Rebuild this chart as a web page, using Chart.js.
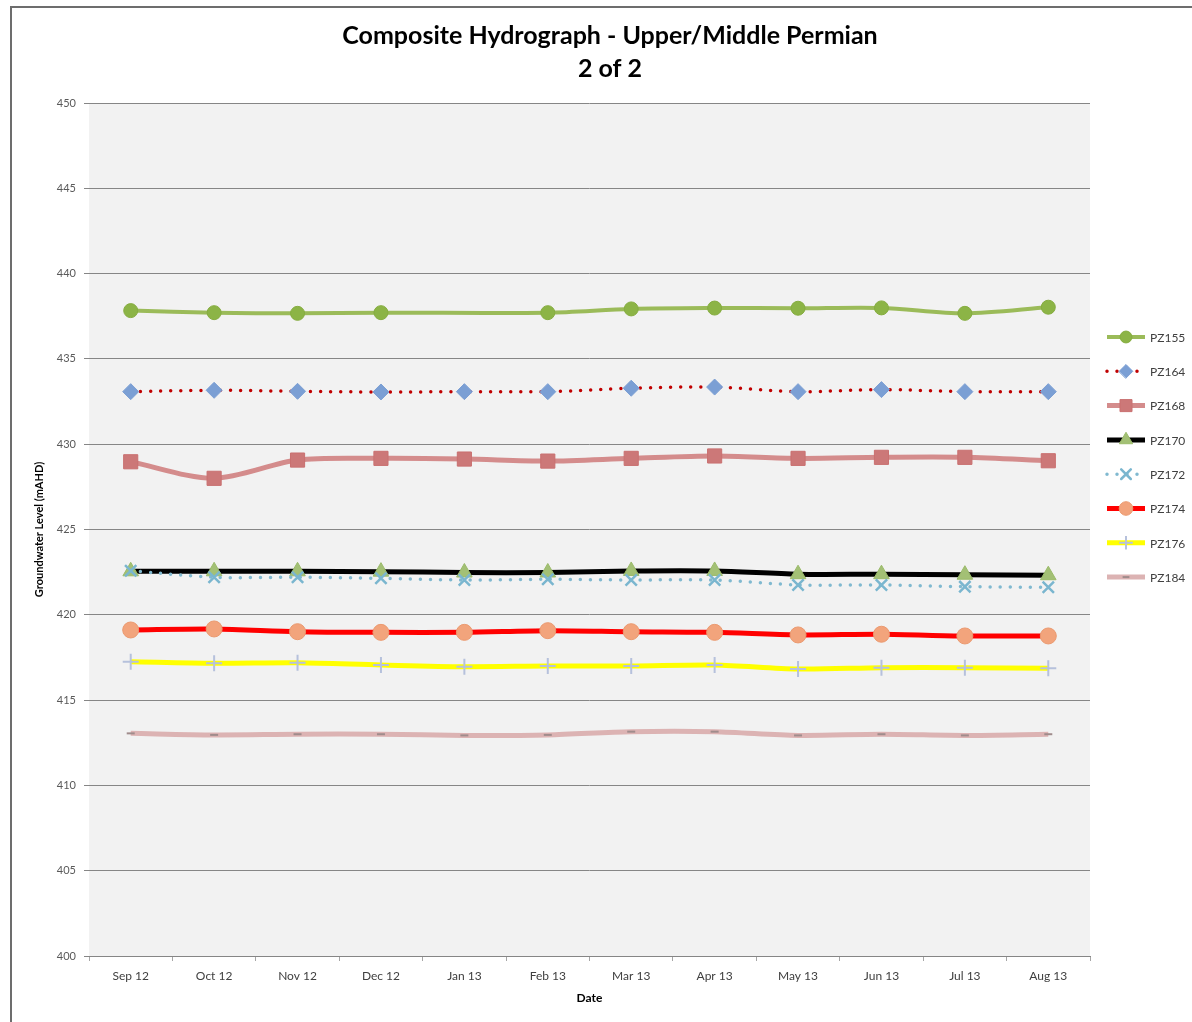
<!DOCTYPE html>
<html>
<head>
<meta charset="utf-8">
<script src="https://cdn.jsdelivr.net/npm/chart.js@4.4.0/dist/chart.umd.min.js"></script>
<style>
  body { margin: 0; background: #fff; overflow: hidden; }
  #wrap {
    position: absolute; left: 10px; top: 6px;
    width: 1196px; height: 1014px;
    border-left: 2px solid #6d6d6d; border-top: 2px solid #6d6d6d;
    background: #fff;
  }
</style>
</head>
<body>
<div id="wrap"><canvas id="hydro" width="1196" height="1014"></canvas></div>
<script>
var months = ['Sep 12', 'Oct 12', 'Nov 12', 'Dec 12', 'Jan 13', 'Feb 13', 'Mar 13', 'Apr 13', 'May 13', 'Jun 13', 'Jul 13', 'Aug 13'];
var yTicks = [400, 405, 410, 415, 420, 425, 430, 435, 440, 445, 450];

var pz155 = [437.83, 437.71, 437.67, 437.71, null, 437.71, 437.93, 437.98, 437.97, 437.99, 437.67, 438.03];
var pz164 = [433.08, 433.16, 433.10, 433.06, 433.08, 433.08, 433.28, 433.35, 433.08, 433.20, 433.08, 433.08];
var pz168 = [428.97, 428.00, 429.07, 429.17, 429.13, 429.01, 429.17, 429.31, 429.17, 429.23, 429.23, 429.03];
var pz170 = [422.55, 422.55, 422.55, 422.53, 422.48, 422.48, 422.57, 422.57, 422.38, 422.38, 422.35, 422.32];
var pz172 = [422.58, 422.20, 422.20, 422.14, 422.04, 422.08, 422.04, 422.04, 421.75, 421.75, 421.65, 421.61];
var pz174 = [419.11, 419.17, 419.01, 418.97, 418.97, 419.07, 419.01, 418.97, 418.82, 418.86, 418.76, 418.76];
var pz176 = [417.25, 417.16, 417.19, 417.06, 416.96, 417.00, 417.00, 417.06, 416.82, 416.90, 416.90, 416.86];
var pz184 = [413.05, 412.96, 413.00, 413.00, 412.93, 412.96, 413.15, 413.15, 412.93, 413.00, 412.93, 413.00];

function series(label, data, line, width, dash, style, fill, stroke, radius, pw) {
    return {
        label: label,
        data: data,
        borderColor: line,
        borderWidth: width,
        borderDash: dash,
        borderCapStyle: dash.length ? 'round' : 'butt',
        pointStyle: style,
        pointRadius: radius,
        pointBackgroundColor: fill,
        pointBorderColor: stroke,
        pointBorderWidth: pw,
        tension: 0.3,
        spanGaps: true,
        fill: false
    };
}

var datasets = [
    series('PZ155', pz155, '#9bbb59', 4, [], 'circle', '#8cb446', '#86ad40', 7, 1),
    series('PZ164', pz164, '#c00000', 3.5, [0, 10], 'rectRot', '#7b9fd4', '#7b9fd4', 8, 1),
    series('PZ168', pz168, '#d48c8c', 5, [], 'rect', '#cc7878', '#c97070', 10, 1),
    series('PZ170', pz170, '#000000', 5, [], 'triangle', '#a3c075', '#9bbb6a', 9, 1),
    series('PZ172', pz172, '#80b9d0', 3.5, [0, 10], 'crossRot', '#7ab6cf', '#7ab6cf', 8, 2.5),
    series('PZ174', pz174, '#ff0000', 5, [], 'circle', '#f2a47c', '#eb9a70', 8, 1),
    series('PZ176', pz176, '#ffff00', 5, [], 'cross', '#b6c1dc', '#b6c1dc', 8, 2),
    series('PZ184', pz184, '#dcb3b3', 5, [], 'line', '#a08c8c', '#a08c8c', 4, 2)
];
// Excel draws the later series on top
for (var i = 0; i < datasets.length; i++) {
    datasets[i].order = datasets.length - i;
}

var plotBg = {
    id: 'plotBg',
    beforeDraw: function(chart) {
        var a = chart.chartArea, ctx = chart.ctx;
        ctx.save();
        ctx.fillStyle = '#f2f2f2';
        ctx.fillRect(a.left, a.top, a.right - a.left, a.bottom - a.top);
        ctx.restore();
    }
};

// line + marker legend like the Excel one
var sideLegend = {
    id: 'sideLegend',
    afterDraw: function(chart) {
        var ctx = chart.ctx;
        var x0 = chart.chartArea.right + 15;
        var y0 = chart.chartArea.top + 234;
        chart.data.datasets.forEach(function(ds, i) {
            var y = y0 + i * 34.3;
            ctx.save();
            ctx.strokeStyle = ds.borderColor;
            ctx.lineWidth = ds.borderWidth;
            ctx.lineCap = ds.borderCapStyle;
            ctx.setLineDash(ds.borderDash);
            ctx.beginPath();
            ctx.moveTo(x0 + 2, y);
            ctx.lineTo(x0 + 40, y);
            ctx.stroke();
            ctx.setLineDash([]);
            ctx.fillStyle = ds.pointBackgroundColor;
            ctx.strokeStyle = ds.pointBorderColor;
            ctx.lineWidth = ds.pointBorderWidth;
            Chart.helpers.drawPoint(ctx, {
                pointStyle: ds.pointStyle,
                radius: ds.pointRadius * 0.85,
                rotation: 0,
                borderWidth: ds.pointBorderWidth
            }, x0 + 21, y);
            ctx.fillStyle = '#404040';
            ctx.font = '12px Lato';
            ctx.textBaseline = 'middle';
            ctx.fillText(ds.label, x0 + 45, y + 1);
            ctx.restore();
        });
    }
};

var ctx = document.getElementById('hydro');
var hydroChart = new Chart(ctx, {
    type: 'line',
    data: {
        labels: months,
        datasets: datasets
    },
    options: {
        responsive: false,
        animation: false,
        layout: {
            padding: { left: 0, right: 0, top: 0, bottom: 6 }
        },
        plugins: {
            legend: { display: false },
            tooltip: { enabled: false },
            title: {
                display: true,
                text: ['Composite Hydrograph - Upper/Middle Permian', '2 of 2'],
                color: '#000',
                font: { family: 'Lato', size: 25, weight: 'bold', lineHeight: 1.3 },
                padding: { top: 12, bottom: 18 }
            }
        },
        scales: {
            x: {
                offset: true,
                grid: {
                    offset: true,
                    drawOnChartArea: false,
                    tickLength: 5,
                    color: '#a6a6a6'
                },
                border: { color: '#868686' },
                ticks: {
                    color: '#404040',
                    padding: 8,
                    maxRotation: 0,
                    font: { family: 'Lato', size: 12 }
                },
                title: {
                    display: true,
                    text: 'Date',
                    color: '#000',
                    font: { family: 'Lato', size: 12, weight: 'bold' },
                    padding: { top: 4, bottom: 11 }
                },
                afterFit: function(scale) { scale.height = 60; }
            },
            y: {
                min: 400,
                max: 450,
                afterBuildTicks: function(scale) {
                    scale.ticks = yTicks.map(function(v) { return { value: v }; });
                },
                grid: {
                    color: '#868686',
                    tickLength: 5
                },
                border: { display: false },
                ticks: {
                    color: '#595959',
                    padding: 8,
                    font: { family: 'Lato', size: 11 }
                },
                title: {
                    display: true,
                    text: 'Groundwater Level (mAHD)',
                    color: '#000',
                    font: { family: 'Lato', size: 11, weight: 'bold' },
                    padding: { top: 21, bottom: 0 }
                },
                afterFit: function(scale) { scale.width = 77; }
            },
            // empty right-hand box that keeps room for the legend
            side: {
                position: 'right',
                min: 400,
                max: 450,
                grid: { drawOnChartArea: false, drawTicks: false },
                border: { display: false },
                ticks: { display: false },
                afterFit: function(scale) { scale.width = 118; }
            }
        }
    },
    plugins: [plotBg, sideLegend]
});
</script>
</body>
</html>
